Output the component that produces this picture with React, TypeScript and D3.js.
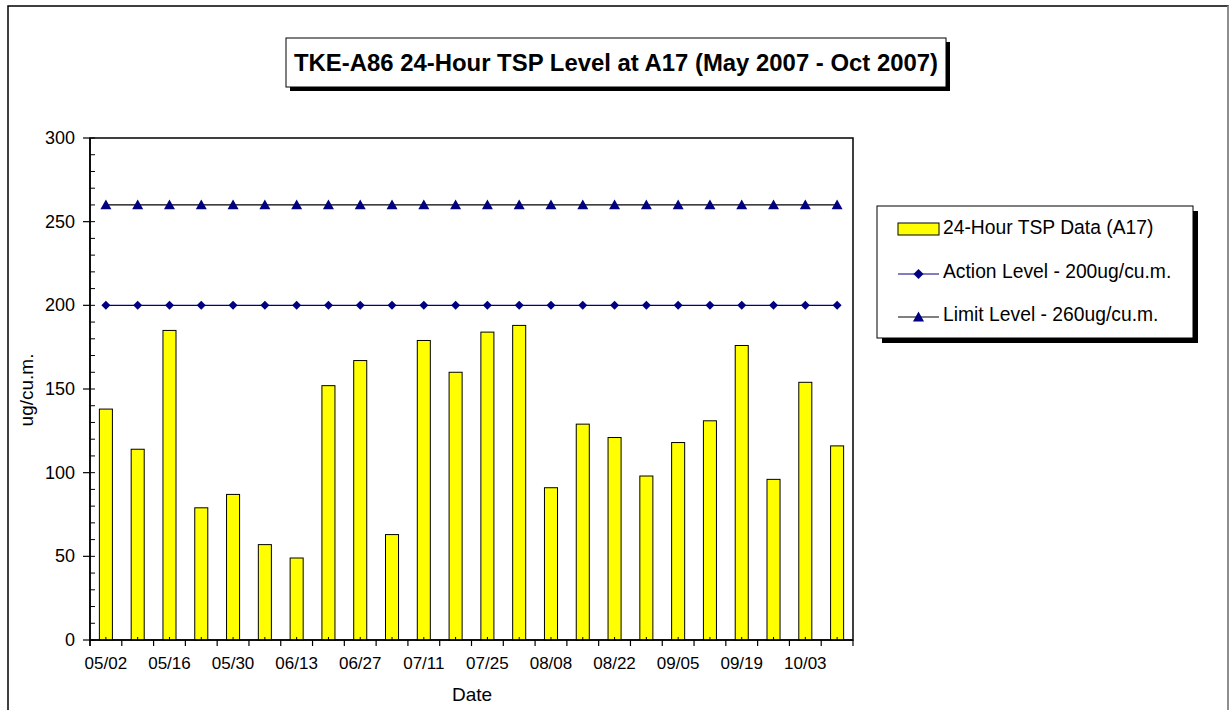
import * as d3 from "d3";

const dates = [
  "05/02", "05/09", "05/16", "05/23", "05/30", "06/06", "06/13", "06/20",
  "06/27", "07/04", "07/11", "07/18", "07/25", "08/01", "08/08", "08/15",
  "08/22", "08/29", "09/05", "09/12", "09/19", "09/26", "10/03", "10/10",
];
const tsp = [138, 114, 185, 79, 87, 57, 49, 152, 167, 63, 179, 160, 184, 188, 91, 129, 121, 98, 118, 131, 176, 96, 154, 116];
const actionLevel = 200;
const limitLevel = 260;
const yTicks = [0, 50, 100, 150, 200, 250, 300];
const legendLabels = ["24-Hour TSP Data (A17)", "Action Level - 200ug/cu.m.", "Limit Level - 260ug/cu.m."];

const W = 1229, H = 710;
const FONT = "'Liberation Sans', Arial, Helvetica, sans-serif";
const NAVY = "#000080";

export default function App() {
  const x = d3.scaleBand<string>().domain(dates).range([90, 853]);
  const y = d3.scaleLinear().domain([0, 300]).range([640, 138]);
  const bw = x.bandwidth();
  const cx = (d: string) => x(d)! + bw / 2;
  const barW = bw * 0.41;
  const minor = d3.range(0, 301, 10);

  const lineGen = d3.line<string>().x((d) => cx(d));
  const diamond = (px: number, py: number, s = 4.5) =>
    `M${px},${py - s}L${px + s},${py}L${px},${py + s}L${px - s},${py}Z`;
  const triangle = (px: number, py: number, s = 5.5) =>
    `M${px},${py - s}L${px + s},${py + s * 0.8}L${px - s},${py + s * 0.8}Z`;

  const legX = 877, legY = 206, legW = 316, legH = 132;
  const rowY = [227, 271, 314];

  return (
    <svg width={W} height={H} style={{ position: "absolute", left: 0, top: 0, background: "#fff" }} fontFamily={FONT}>
      {/* outer chart frame */}
      <rect x={8} y={6} width={1220} height={720} fill="#fff" stroke="#000" strokeWidth={1.5} />
      <line x1={1228} x2={1228} y1={6} y2={710} stroke="#aaa" strokeWidth={1.5} />

      {/* title box */}
      <rect x={290} y={42} width={660} height={49} fill="#000" />
      <rect x={286} y={38} width={660} height={49} fill="#fff" stroke="#000" strokeWidth={1} />
      <text x={616} y={71} textAnchor="middle" fontSize={23.5} fontWeight="bold"
        textLength={644} lengthAdjust="spacingAndGlyphs">
        TKE-A86 24-Hour TSP Level at A17 (May 2007 - Oct 2007)
      </text>

      {/* plot area */}
      <rect x={90} y={138} width={763} height={502} fill="#fff" stroke="#000" strokeWidth={1.5} />

      {/* bars */}
      {tsp.map((v, i) => (
        <rect key={i} x={cx(dates[i]) - barW / 2} y={y(v)} width={barW} height={y(0) - y(v)}
          fill="#FFFF00" stroke="#000" strokeWidth={1} />
      ))}

      {/* action level line */}
      <path d={lineGen.y(() => y(actionLevel))(dates)!} fill="none" stroke={NAVY} strokeWidth={1.2} />
      {dates.map((d, i) => <path key={i} d={diamond(cx(d), y(actionLevel))} fill={NAVY} />)}

      {/* limit level line */}
      <path d={lineGen.y(() => y(limitLevel))(dates)!} fill="none" stroke="#000" strokeWidth={1.2} />
      {dates.map((d, i) => <path key={i} d={triangle(cx(d), y(limitLevel))} fill={NAVY} />)}

      {/* y axis */}
      <line x1={90} x2={90} y1={138} y2={646} stroke="#000" strokeWidth={1.5} />
      {minor.map((t) => (
        <line key={t} x1={90} x2={95} y1={y(t)} y2={y(t)} stroke="#000" strokeWidth={1} />
      ))}
      {yTicks.map((t) => (
        <g key={t}>
          <line x1={83} x2={90} y1={y(t)} y2={y(t)} stroke="#000" strokeWidth={1.2} />
          <text x={75} y={y(t) + 6} textAnchor="end" fontSize={18}>{t}</text>
        </g>
      ))}
      <text transform={`translate(33,390) rotate(-90)`} textAnchor="middle" fontSize={19}>ug/cu.m.</text>

      {/* x axis */}
      <line x1={90} x2={853} y1={640} y2={640} stroke="#000" strokeWidth={1.5} />
      {dates.map((d) => (
        <line key={d} x1={x(d)!} x2={x(d)!} y1={640} y2={646} stroke="#000" strokeWidth={1.2} />
      ))}
      <line x1={853} x2={853} y1={640} y2={646} stroke="#000" strokeWidth={1.2} />
      {dates.map((d) => (
        <line key={d} x1={cx(d)} x2={cx(d)} y1={637} y2={640} stroke="#000" strokeWidth={1} />
      ))}
      {dates.map((d, i) => i % 2 === 0 ? (
        <text key={d} x={cx(d)} y={669} textAnchor="middle" fontSize={17}>{d}</text>
      ) : null)}
      <text x={472} y={701} textAnchor="middle" fontSize={19}>Date</text>

      {/* legend */}
      <rect x={legX + 5} y={legY + 5} width={legW} height={legH} fill="#000" />
      <rect x={legX} y={legY} width={legW} height={legH} fill="#fff" stroke="#000" strokeWidth={1} />
      <rect x={898} y={rowY[0] - 4} width={41} height={12} fill="#FFFF00" stroke="#000" strokeWidth={1} />
      <line x1={898} x2={939} y1={rowY[1] + 3} y2={rowY[1] + 3} stroke={NAVY} strokeWidth={1.2} />
      <path d={diamond(918.5, rowY[1] + 3, 5)} fill={NAVY} />
      <line x1={898} x2={939} y1={rowY[2] + 3} y2={rowY[2] + 3} stroke="#000" strokeWidth={1.2} />
      <path d={triangle(918.5, rowY[2] + 3)} fill={NAVY} />
      {legendLabels.map((l, i) => (
        <text key={l} x={943} y={rowY[i] + 7} fontSize={19.3}>{l}</text>
      ))}
    </svg>
  );
}
